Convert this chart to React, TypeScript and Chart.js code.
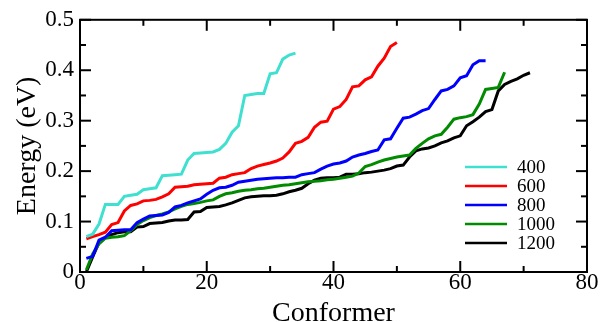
import React, { useEffect, useRef } from "react";
import { Chart, registerables } from "chart.js";

Chart.register(...registerables);

const seriesLabels = ["400", "600", "800", "1000", "1200"];
const seriesColors = ["#40E0D0", "#FF0000", "#0000FF", "#008B00", "#000000"];

const e400 = [
  0.070, 0.075, 0.095, 0.134, 0.134, 0.134, 0.150, 0.152, 0.154, 0.163,
  0.165, 0.167, 0.191, 0.192, 0.193, 0.194, 0.222, 0.235, 0.236, 0.237,
  0.238, 0.243, 0.255, 0.277, 0.290, 0.350, 0.352, 0.354, 0.354, 0.393,
  0.395, 0.422, 0.430, 0.434,
];

const e600 = [
  0.066, 0.070, 0.074, 0.079, 0.094, 0.098, 0.121, 0.132, 0.135, 0.141,
  0.142, 0.144, 0.149, 0.155, 0.168, 0.169, 0.170, 0.173, 0.174, 0.175,
  0.176, 0.186, 0.188, 0.193, 0.195, 0.197, 0.205, 0.210, 0.213, 0.216,
  0.220, 0.226, 0.238, 0.255, 0.259, 0.267, 0.287, 0.297, 0.299, 0.323,
  0.328, 0.342, 0.367, 0.369, 0.381, 0.387, 0.408, 0.424, 0.447, 0.455,
];

const e800 = [
  0.027, 0.031, 0.063, 0.069, 0.082, 0.083, 0.084, 0.084, 0.098, 0.105,
  0.111, 0.112, 0.113, 0.118, 0.129, 0.132, 0.137, 0.141, 0.145, 0.154,
  0.162, 0.167, 0.168, 0.172, 0.178, 0.180, 0.182, 0.184, 0.185, 0.186,
  0.187, 0.187, 0.188, 0.188, 0.193, 0.195, 0.197, 0.204, 0.210, 0.214,
  0.216, 0.220, 0.228, 0.232, 0.235, 0.239, 0.242, 0.262, 0.264, 0.285,
  0.305, 0.307, 0.313, 0.320, 0.324, 0.342, 0.359, 0.362, 0.369, 0.385,
  0.389, 0.411, 0.419, 0.419,
];

const e1000 = [
  0.004, 0.036, 0.056, 0.067, 0.069, 0.070, 0.072, 0.082, 0.094, 0.102,
  0.108, 0.112, 0.115, 0.119, 0.125, 0.130, 0.134, 0.136, 0.138, 0.141,
  0.143, 0.150, 0.155, 0.157, 0.160, 0.162, 0.163, 0.165, 0.166, 0.168,
  0.170, 0.172, 0.173, 0.175, 0.177, 0.179, 0.180, 0.181, 0.183, 0.184,
  0.186, 0.188, 0.190, 0.196, 0.209, 0.213, 0.218, 0.222, 0.225, 0.228,
  0.230, 0.232, 0.245, 0.255, 0.264, 0.270, 0.273, 0.287, 0.303, 0.306,
  0.308, 0.312, 0.333, 0.362, 0.364, 0.366, 0.396,
];

const e1200 = [
  0.000, 0.030, 0.058, 0.068, 0.074, 0.078, 0.080, 0.080, 0.089, 0.090,
  0.096, 0.097, 0.098, 0.101, 0.103, 0.103, 0.104, 0.119, 0.120, 0.128,
  0.129, 0.130, 0.133, 0.137, 0.142, 0.147, 0.149, 0.150, 0.151, 0.151,
  0.152, 0.155, 0.159, 0.162, 0.166, 0.175, 0.182, 0.186, 0.187, 0.187,
  0.188, 0.194, 0.194, 0.195, 0.197, 0.198, 0.200, 0.202, 0.205, 0.210,
  0.212, 0.228, 0.240, 0.244, 0.246, 0.250, 0.256, 0.260, 0.266, 0.270,
  0.290, 0.298, 0.307, 0.318, 0.322, 0.359, 0.372, 0.378, 0.383, 0.390,
  0.395,
];

const seriesValues = [e400, e600, e800, e1000, e1200];

const xMin = 0;
const xMax = 80;
const xMajorStep = 20;
const xMinorStep = 10;
const yMin = 0;
const yMax = 0.5;
const yMajorStep = 0.1;
const yMinorStep = 0.05;

const xTitle = "Conformer";
const yTitle = "Energy (eV)";

const SERIF = "'Liberation Serif', 'DejaVu Serif', serif";

const framePlugin = {
  id: "xmgraceFrame",
  afterDraw(chart: any) {
    const { ctx, chartArea } = chart;
    const { left, right, top, bottom } = chartArea;
    const xs = chart.scales.x;
    const ys = chart.scales.y;
    ctx.save();
    ctx.strokeStyle = "#000";
    ctx.lineWidth = 2;
    ctx.lineCap = "butt";
    ctx.strokeRect(left, top, right - left, bottom - top);

    const line = (x1: number, y1: number, x2: number, y2: number) => {
      ctx.beginPath();
      ctx.moveTo(x1, y1);
      ctx.lineTo(x2, y2);
      ctx.stroke();
    };

    const nX = Math.round((xMax - xMin) / xMinorStep);
    for (let i = 0; i <= nX; i++) {
      const v = xMin + i * xMinorStep;
      const px = xs.getPixelForValue(v);
      const major = Math.abs(v / xMajorStep - Math.round(v / xMajorStep)) < 1e-6;
      const len = major ? 11 : 6;
      line(px, bottom, px, bottom - len);
      line(px, top, px, top + len);
    }
    const nY = Math.round((yMax - yMin) / yMinorStep);
    for (let i = 0; i <= nY; i++) {
      const v = yMin + i * yMinorStep;
      const py = ys.getPixelForValue(v);
      const major = i % 2 === 0;
      const len = major ? 11 : 6;
      line(left, py, left + len, py);
      line(right, py, right - len, py);
    }

    // legend
    ctx.font = `19px ${SERIF}`;
    ctx.textBaseline = "middle";
    ctx.textAlign = "left";
    ctx.fillStyle = "#000";
    chart.data.datasets.forEach((ds: any, i: number) => {
      const yy = 167 + i * 19;
      ctx.strokeStyle = ds.borderColor;
      ctx.lineWidth = 2.5;
      line(465, yy, 507, yy);
      ctx.fillText(ds.label, 517, yy + 1);
    });
    ctx.restore();
  },
};

export default function App() {
  const canvasRef = useRef<HTMLCanvasElement | null>(null);

  useEffect(() => {
    if (!canvasRef.current) return;
    const datasets = seriesValues.map((vals, i) => ({
      label: seriesLabels[i],
      data: vals.map((v, j) => ({ x: j + 1, y: v })),
      borderColor: seriesColors[i],
      backgroundColor: seriesColors[i],
      borderWidth: 3,
      pointRadius: 0,
      tension: 0,
      fill: false,
      showLine: true,
      clip: 4,
    }));

    const chart = new Chart(canvasRef.current, {
      type: "scatter",
      data: { datasets },
      options: {
        responsive: false,
        animation: false,
        layout: { padding: { top: 16, right: 15, left: 0, bottom: 0 } },
        plugins: {
          legend: { display: false },
          tooltip: { enabled: false },
        },
        scales: {
          x: {
            type: "linear",
            min: xMin,
            max: xMax,
            afterFit: (s: any) => {
              s.height = 50;
            },
            grid: { display: false, drawTicks: false },
            border: { display: false },
            ticks: {
              stepSize: xMajorStep,
              color: "#000",
              padding: -1,
              font: { family: SERIF, size: 23, lineHeight: 1 },
              callback: (v: any) => String(v),
            },
            title: {
              display: true,
              text: xTitle,
              color: "#000",
              font: { family: SERIF, size: 28, lineHeight: 0.6 },
              padding: 0,
            },
          },
          y: {
            type: "linear",
            min: yMin,
            max: yMax,
            afterFit: (s: any) => {
              s.width = 80;
            },
            grid: { display: false, drawTicks: false },
            border: { display: false },
            ticks: {
              stepSize: yMajorStep,
              color: "#000",
              padding: 6,
              font: { family: SERIF, size: 23 },
              callback: (v: any) => {
                const n = Math.round(Number(v) * 10) / 10;
                return n === 0 ? "0" : n.toFixed(1);
              },
            },
            title: {
              display: true,
              text: yTitle,
              color: "#000",
              font: { family: SERIF, size: 28, lineHeight: 0.8 },
              padding: { top: 16, bottom: 0 },
            },
          },
        },
      },
      plugins: [framePlugin],
    });
    return () => chart.destroy();
  }, []);

  return (
    <div style={{ position: "fixed", left: 0, top: 0, width: 602, height: 322, background: "#fff" }}>
      <canvas ref={canvasRef} width={602} height={322} style={{ display: "block" }} />
    </div>
  );
}
